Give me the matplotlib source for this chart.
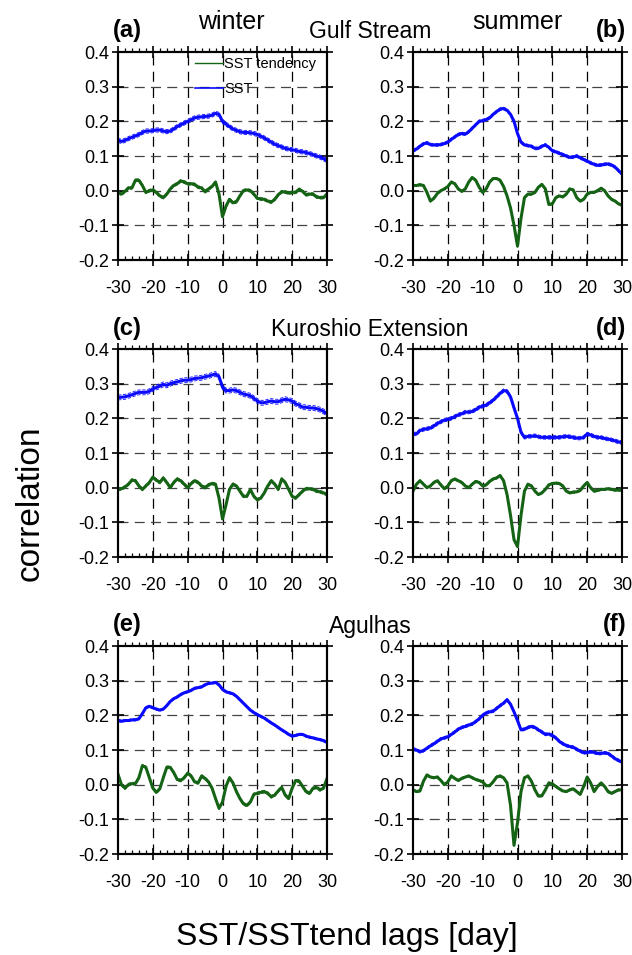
import matplotlib
matplotlib.use("Agg")
import matplotlib.pyplot as plt
from matplotlib.lines import Line2D
from matplotlib.ticker import MultipleLocator, NullFormatter
import numpy as np

plt.rcParams["font.family"] = ["Liberation Sans", "DejaVu Sans"]

# lag axis, -30 .. 30 days
lags = list(range(-30, 31))

# --- (a) Gulf Stream, winter -------------------------------------------
gs_winter_sst = [
    0.145, 0.142, 0.145, 0.150, 0.154, 0.158, 0.162, 0.168, 0.172, 0.172,
    0.173, 0.175, 0.175, 0.172, 0.170, 0.172, 0.178, 0.185, 0.190, 0.195,
    0.200, 0.205, 0.210, 0.212, 0.213, 0.214, 0.215, 0.218, 0.223, 0.220,
    0.200, 0.192, 0.185, 0.178, 0.174, 0.170, 0.168, 0.168, 0.167, 0.165,
    0.162, 0.157, 0.152, 0.146, 0.140, 0.134, 0.130, 0.126, 0.122, 0.120,
    0.118, 0.116, 0.113, 0.112, 0.110, 0.107, 0.104, 0.100, 0.097, 0.092, 0.087,
]
gs_winter_tend = [
    -0.005, -0.010, -0.002, 0.008, 0.008, 0.030, 0.030, 0.015, -0.005, 0.000,
    0.002, -0.005, -0.015, -0.020, -0.010, 0.005, 0.015, 0.020, 0.028, 0.025,
    0.020, 0.020, 0.018, 0.010, 0.008, -0.003, 0.005, 0.012, 0.025, -0.010,
    -0.075, -0.045, -0.025, -0.035, -0.032, -0.015, 0.000, 0.002, 0.000, -0.010,
    -0.022, -0.024, -0.025, -0.030, -0.033, -0.025, -0.012, -0.003, -0.004, -0.007,
    -0.005, -0.005, 0.004, -0.002, -0.012, -0.010, -0.010, -0.018, -0.020, -0.020, -0.010,
]

# --- (b) Gulf Stream, summer -------------------------------------------
gs_summer_sst = [
    0.115, 0.120, 0.128, 0.135, 0.138, 0.133, 0.132, 0.132, 0.133, 0.136,
    0.140, 0.148, 0.155, 0.162, 0.165, 0.163, 0.170, 0.180, 0.190, 0.200,
    0.202, 0.205, 0.210, 0.220, 0.228, 0.235, 0.237, 0.232, 0.220, 0.200,
    0.165, 0.140, 0.132, 0.130, 0.128, 0.122, 0.122, 0.128, 0.132, 0.125,
    0.115, 0.112, 0.108, 0.104, 0.100, 0.096, 0.097, 0.100, 0.095, 0.090,
    0.085, 0.080, 0.076, 0.073, 0.074, 0.076, 0.077, 0.074, 0.068, 0.058, 0.048,
]
gs_summer_tend = [
    0.015, 0.015, 0.017, 0.015, -0.005, -0.030, -0.022, -0.008, 0.000, 0.005,
    0.012, 0.025, 0.020, 0.005, -0.002, 0.005, 0.025, 0.038, 0.030, 0.010,
    -0.005, 0.005, 0.025, 0.035, 0.035, 0.030, 0.012, -0.015, -0.050, -0.100,
    -0.160, -0.080, -0.020, -0.010, -0.010, -0.005, 0.010, 0.018, 0.005, -0.040,
    -0.038, -0.020, -0.015, -0.018, -0.010, 0.005, 0.002, -0.020, -0.030, -0.025,
    -0.010, -0.005, -0.005, 0.000, 0.007, 0.000, -0.015, -0.025, -0.030, -0.038, -0.042,
]

# --- (c) Kuroshio Extension, winter ------------------------------------
ke_winter_sst = [
    0.260, 0.261, 0.262, 0.265, 0.268, 0.272, 0.275, 0.275, 0.275, 0.278,
    0.285, 0.289, 0.293, 0.298, 0.295, 0.300, 0.303, 0.305, 0.308, 0.310,
    0.310, 0.312, 0.315, 0.316, 0.317, 0.320, 0.322, 0.325, 0.328, 0.320,
    0.290, 0.280, 0.280, 0.282, 0.280, 0.275, 0.270, 0.268, 0.265, 0.258,
    0.250, 0.245, 0.245, 0.248, 0.250, 0.248, 0.248, 0.252, 0.255, 0.253,
    0.250, 0.242, 0.238, 0.232, 0.232, 0.230, 0.230, 0.228, 0.225, 0.220, 0.213,
]
ke_winter_tend = [
    -0.005, -0.003, 0.002, 0.010, 0.022, 0.020, 0.005, -0.005, 0.005, 0.015,
    0.030, 0.022, 0.015, 0.028, 0.015, 0.000, 0.015, 0.025, 0.020, 0.010,
    0.000, 0.012, 0.020, 0.015, 0.005, 0.000, 0.008, 0.012, 0.010, -0.030,
    -0.090, -0.050, -0.005, 0.010, 0.005, -0.010, -0.025, -0.025, -0.005, -0.025,
    -0.035, -0.030, -0.015, 0.005, 0.020, 0.010, -0.005, 0.025, 0.015, -0.005,
    -0.025, -0.030, -0.020, -0.010, -0.003, -0.003, -0.005, -0.010, -0.012, -0.015, -0.020,
]

# --- (d) Kuroshio Extension, summer ------------------------------------
ke_summer_sst = [
    0.155, 0.155, 0.165, 0.168, 0.170, 0.172, 0.178, 0.185, 0.190, 0.195,
    0.197, 0.200, 0.205, 0.210, 0.213, 0.218, 0.218, 0.220, 0.225, 0.232,
    0.235, 0.238, 0.245, 0.252, 0.262, 0.272, 0.280, 0.278, 0.262, 0.230,
    0.200, 0.160, 0.145, 0.148, 0.148, 0.150, 0.147, 0.145, 0.145, 0.145,
    0.145, 0.145, 0.145, 0.147, 0.148, 0.147, 0.145, 0.143, 0.143, 0.145,
    0.155, 0.152, 0.148, 0.145, 0.145, 0.142, 0.140, 0.138, 0.135, 0.132, 0.130,
]
ke_summer_tend = [
    -0.010, 0.010, 0.020, 0.010, 0.000, 0.005, 0.015, 0.020, 0.008, -0.003,
    0.005, 0.020, 0.025, 0.020, 0.015, 0.005, 0.000, 0.010, 0.018, 0.015,
    0.005, 0.008, 0.018, 0.025, 0.028, 0.035, 0.020, -0.020, -0.080, -0.150,
    -0.170, -0.080, -0.010, 0.010, 0.005, -0.010, -0.020, -0.015, -0.005, 0.008,
    0.012, 0.013, 0.012, 0.005, -0.010, -0.015, -0.013, -0.012, -0.008, 0.005,
    0.015, 0.000, -0.010, -0.008, -0.005, -0.005, -0.003, -0.005, -0.007, -0.007, -0.007,
]

# --- (e) Agulhas, winter -----------------------------------------------
ag_winter_sst = [
    0.185, 0.183, 0.185, 0.185, 0.187, 0.187, 0.190, 0.205, 0.222, 0.226,
    0.222, 0.218, 0.215, 0.218, 0.228, 0.240, 0.248, 0.253, 0.260, 0.265,
    0.268, 0.272, 0.278, 0.280, 0.282, 0.288, 0.292, 0.293, 0.295, 0.288,
    0.275, 0.268, 0.265, 0.262, 0.255, 0.245, 0.235, 0.225, 0.215, 0.208,
    0.202, 0.197, 0.192, 0.185, 0.178, 0.172, 0.165, 0.158, 0.152, 0.145,
    0.140, 0.142, 0.145, 0.145, 0.140, 0.137, 0.135, 0.132, 0.130, 0.127, 0.122,
]
ag_winter_tend = [
    0.030, 0.000, -0.010, 0.000, 0.003, 0.003, 0.020, 0.055, 0.050, 0.020,
    -0.010, -0.022, -0.012, 0.020, 0.050, 0.050, 0.035, 0.015, 0.012, 0.020,
    0.033, 0.025, 0.008, 0.005, 0.025, 0.018, 0.008, -0.010, -0.040, -0.068,
    -0.050, -0.005, 0.020, 0.005, -0.020, -0.040, -0.055, -0.060, -0.050, -0.028,
    -0.025, -0.022, -0.020, -0.025, -0.035, -0.030, -0.018, -0.008, -0.030, -0.040,
    -0.010, 0.012, 0.010, -0.005, -0.020, -0.025, -0.010, -0.008, -0.015, -0.010, 0.018,
]

# --- (f) Agulhas, summer -----------------------------------------------
ag_summer_sst = [
    0.103, 0.100, 0.095, 0.098, 0.105, 0.112, 0.118, 0.125, 0.132, 0.135,
    0.138, 0.145, 0.152, 0.160, 0.165, 0.168, 0.172, 0.175, 0.182, 0.190,
    0.200, 0.207, 0.210, 0.212, 0.220, 0.228, 0.235, 0.245, 0.232, 0.210,
    0.185, 0.158, 0.160, 0.165, 0.168, 0.165, 0.158, 0.152, 0.145, 0.146,
    0.142, 0.135, 0.125, 0.118, 0.113, 0.110, 0.108, 0.102, 0.097, 0.092,
    0.093, 0.095, 0.093, 0.090, 0.090, 0.092, 0.090, 0.083, 0.075, 0.070, 0.065,
]
ag_summer_tend = [
    -0.015, -0.020, -0.018, 0.010, 0.028, 0.022, 0.020, 0.022, 0.012, 0.000,
    0.008, 0.025, 0.018, 0.012, 0.018, 0.022, 0.025, 0.020, 0.015, 0.012,
    0.008, -0.003, -0.003, 0.008, 0.022, 0.025, 0.020, 0.005, -0.060, -0.175,
    -0.110, -0.020, 0.020, 0.025, 0.010, -0.015, -0.033, -0.032, -0.015, 0.005,
    0.002, -0.005, -0.012, -0.018, -0.020, -0.015, -0.012, -0.020, -0.028, -0.005,
    0.022, 0.005, -0.020, -0.005, 0.005, -0.005, -0.020, -0.025, -0.020, -0.015, -0.015,
]

# half width of the thin dashed envelope around each curve
sst_spread = [0.006, 0.004, 0.007, 0.005, 0.003, 0.004]
tend_spread = [0.004, 0.003, 0.004, 0.003, 0.004, 0.003]

panel_letters = ["(a)", "(b)", "(c)", "(d)", "(e)", "(f)"]
region_names = ["Gulf Stream", "Kuroshio Extension", "Agulhas"]
season_names = ["winter", "summer"]

SST_COLOR = "#0a0aff"
TEND_COLOR = "#156315"


def draw_panel(ax, sst, tend, s_sp, t_sp) -> None:
    x = np.array(lags)
    sst = np.array(sst)
    tend = np.array(tend)

    # grid: dashed lines at the major ticks
    for v in range(-20, 30, 10):
        ax.axvline(v, color="black", lw=0.9, ls=(0, (8, 5)), zorder=1)
    for v in [-0.1, 0.0, 0.1, 0.2, 0.3]:
        ax.axhline(v, color="#444444", lw=0.9, ls=(0, (8, 5)), zorder=1)

    for y, sp, c in [(sst, s_sp, SST_COLOR), (tend, t_sp, TEND_COLOR)]:
        ax.plot(x, y + sp, color=c, lw=0.6, ls=(0, (4, 2)), zorder=2)
        ax.plot(x, y - sp, color=c, lw=0.6, ls=(0, (4, 2)), zorder=2)
        ax.plot(x, y, color=c, lw=2.2, zorder=3)

    ax.set_xlim(-30, 30)
    ax.set_ylim(-0.2, 0.4)
    ax.set_xticks(range(-30, 31, 10))
    ax.set_yticks([-0.2, -0.1, 0.0, 0.1, 0.2, 0.3, 0.4])
    ax.set_yticklabels(["-0.2", "-0.1", "0.0", "0.1", "0.2", "0.3", "0.4"])
    ax.set_xticklabels([str(v) for v in range(-30, 31, 10)])
    ax.xaxis.set_minor_locator(MultipleLocator(2))

    ax.tick_params(which="major", direction="inout", length=9, width=1.2,
                   top=False, right=True, labelsize=13)
    ax.tick_params(axis="x", which="major", pad=10)
    ax.tick_params(axis="y", which="major", pad=2)
    ax.tick_params(axis="x", which="minor", direction="in", length=3,
                   width=0.9, top=False)
    for s in ax.spines.values():
        s.set_linewidth(1.5)

    # top axis: major ticks crossing, minor ticks pointing outwards
    top = ax.twiny()
    top.set_xlim(-30, 30)
    top.set_xticks(range(-30, 31, 10))
    top.xaxis.set_major_formatter(NullFormatter())
    top.xaxis.set_minor_locator(MultipleLocator(2))
    top.tick_params(which="major", direction="inout", length=9, width=1.2)
    top.tick_params(which="minor", direction="out", length=3, width=0.9)
    for s in top.spines.values():
        s.set_linewidth(1.5)
    return ax


def main() -> None:
    fig = plt.figure(figsize=(6.32, 9.55), dpi=100)

    sst_all = [gs_winter_sst, gs_summer_sst, ke_winter_sst,
               ke_summer_sst, ag_winter_sst, ag_summer_sst]
    tend_all = [gs_winter_tend, gs_summer_tend, ke_winter_tend,
                ke_summer_tend, ag_winter_tend, ag_summer_tend]

    lefts = [118 / 632, 413 / 632]
    tops = [52, 349, 646]  # pixel rows of the axes tops
    w = 209 / 632
    h = 208 / 955

    for i in range(6):
        row, col = divmod(i, 2)
        bottom = 1 - (tops[row] + 208) / 955
        ax = fig.add_axes([lefts[col], bottom, w, h])
        draw_panel(ax, sst_all[i], tend_all[i], sst_spread[i], tend_spread[i])

        ytxt = 1 - (tops[row] - 21) / 955
        if col == 0:
            fig.text(113 / 632, ytxt, panel_letters[i], fontsize=17,
                     fontweight="bold", ha="left", va="center")
        else:
            fig.text(626 / 632, ytxt, panel_letters[i], fontsize=17,
                     fontweight="bold", ha="right", va="center")

        if i == 0:
            handles = [Line2D([], [], color=TEND_COLOR, lw=1.0),
                       Line2D([], [], color=SST_COLOR, lw=1.2)]
            leg = ax.legend(handles, ["SST tendency", "SST"], loc="upper left",
                            bbox_to_anchor=(0.368, 0.975), frameon=False,
                            fontsize=10.5, handlelength=1.9,
                            handletextpad=0.1, labelspacing=0.75,
                            borderpad=0.0, borderaxespad=0.0)
            leg.set_zorder(5)

    for j, name in enumerate(region_names):
        fig.text(370 / 632, 1 - (tops[j] - 20) / 955, name, fontsize=16.5,
                 ha="center", va="center")

    fig.text(231 / 632, 1 - 22 / 955, season_names[0], fontsize=18,
             ha="center", va="center")
    fig.text(517 / 632, 1 - 22 / 955, season_names[1], fontsize=18,
             ha="center", va="center")

    fig.text(30 / 632, 1 - 503 / 955, "correlation", fontsize=24, rotation=90,
             ha="center", va="center")
    fig.text(347 / 632, 1 - 937 / 955, "SST/SSTtend lags [day]", fontsize=23,
             ha="center", va="center")

    fig.savefig("out.png", dpi=100)
    plt.close(fig)


if __name__ == "__main__":
    main()
